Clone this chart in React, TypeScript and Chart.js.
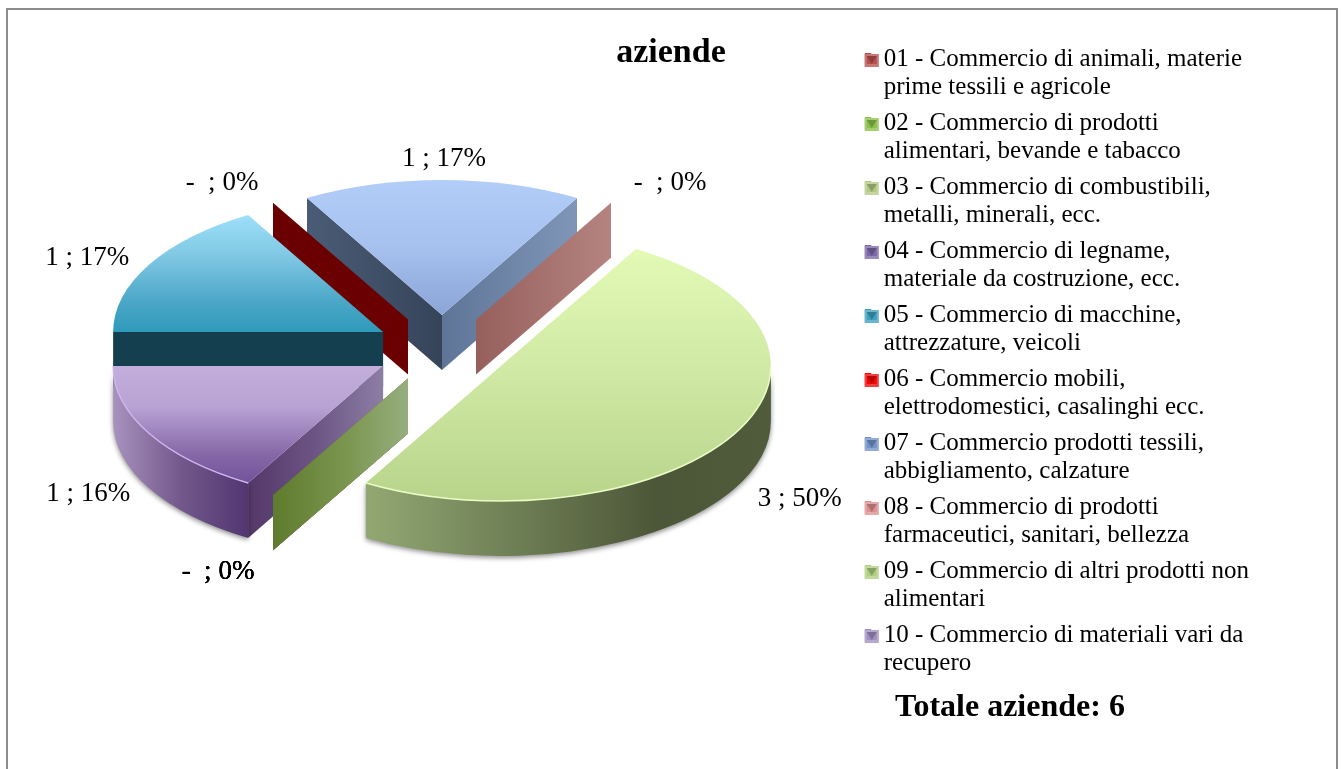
import React, { useEffect, useRef } from "react";
import { Chart, registerables } from "chart.js";

Chart.register(...registerables);

const legendLines: string[][] = [
  ["01 - Commercio di animali, materie", "prime tessili e agricole"],
  ["02 - Commercio di prodotti", "alimentari, bevande e tabacco"],
  ["03 - Commercio di combustibili,", "metalli, minerali, ecc."],
  ["04 - Commercio di legname,", "materiale da costruzione, ecc."],
  ["05 - Commercio di macchine,", "attrezzature, veicoli"],
  ["06 - Commercio mobili,", "elettrodomestici, casalinghi ecc."],
  ["07 - Commercio prodotti tessili,", "abbigliamento, calzature"],
  ["08 - Commercio di prodotti", "farmaceutici, sanitari, bellezza"],
  ["09 - Commercio di altri prodotti non", "alimentari"],
  ["10 - Commercio di materiali vari da", "recupero"],
];
const aziende = [0, 0, 0, 1, 1, 0, 1, 0, 3, 0];
const percentuali = [0, 0, 0, 16, 17, 0, 17, 0, 50, 0];
const swatchColors = ["#B85050", "#8CC04C", "#B4CA84", "#7C68A8", "#40A0C0", "#F00808", "#7494C8", "#DC9090", "#B0D080", "#A090C0"];
const titleText = "aziende";
const totalText = "Totale aziende: 6";

const FONT = '"Liberation Serif", serif';
const CX = 442, CY = 349, EXPLODE = 68, SQUASH = 0.5, DEPTH = 55;

type Stops = [number, string][];
type Look = { top: Stops; outer?: Stops; startWall?: Stops; endWall?: Stops; rim?: string };
const looks: Look[] = [
  { top: [[0, "#B04848"], [1, "#B04848"]], startWall: [[0, "#7A2020"], [1, "#A04848"]] },
  { top: [[0, "#86B848"], [1, "#86B848"]], startWall: [[0, "#5A7A28"], [1, "#80A050"]] },
  { top: [[0, "#AEC47C"], [1, "#AEC47C"]], startWall: [[0, "#5F7B2D"], [0.55, "#7B9650"], [1, "#96AE7E"]] },
  {
    top: [[0, "#C2ADDB"], [0.35, "#B9A3D4"], [0.75, "#8668A8"], [1, "#72539C"]],
    outer: [[0, "#A892BE"], [0.5, "#73588C"], [1, "#513670"]],
    startWall: [[0, "#533769"], [0.5, "#6C5585"], [1, "#8D7EA3"]],
    rim: "#CDB6EC",
  },
  {
    top: [[0, "#9EDFF9"], [0.35, "#7FC8E4"], [0.75, "#4AA6C6"], [1, "#2F9ABB"]],
    startWall: [[0, "#143F4E"], [1, "#143F4E"]],
  },
  { top: [[0, "#6B0000"], [1, "#6B0000"]], startWall: [[0, "#6B0000"], [1, "#6B0000"]] },
  {
    top: [[0, "#B3CDF9"], [0.5, "#A6C1EE"], [1, "#8AA5D7"]],
    startWall: [[0, "#4A5C75"], [1, "#36445A"]],
    endWall: [[0, "#5E7597"], [1, "#7F96B8"]],
  },
  { top: [[0, "#B58480"], [1, "#B58480"]], startWall: [[0, "#965F5C"], [1, "#B58480"]] },
  {
    top: [[0, "#E2FAB6"], [0.5, "#CFE8A4"], [1, "#B8D48A"]],
    outer: [[0, "#92A873"], [0.4, "#6B7B52"], [0.72, "#4C5638"], [1, "#505C3B"]],
    rim: "#EAFBC4",
  },
  { top: [[0, "#9C8CBC"], [1, "#9C8CBC"]], startWall: [[0, "#55406F"], [1, "#8C7CA4"]] },
];
// distance of each value label from the rim point at the middle of its slice
const labelNudge: [number, number][] = [
  [-55, 77], [-55, 77], [-55, 77], [-61, 60], [-62, -7], [-51, -20], [2, -21], [59, -20], [65, 65], [-55, 77],
];

function hGrad(ctx: CanvasRenderingContext2D, x0: number, x1: number, stops: Stops) {
  const g = ctx.createLinearGradient(Math.min(x0, x1), 0, Math.max(x0, x1), 0);
  stops.forEach(([o, c]) => g.addColorStop(o, c));
  return g;
}

const pie3d = {
  id: "pie3d",
  beforeDraw(chart: any) {
    const ctx: CanvasRenderingContext2D = chart.ctx;
    ctx.save();
    ctx.fillStyle = "#fff";
    ctx.fillRect(0, 0, chart.width, chart.height);
    ctx.strokeStyle = "#8C8C8C";
    ctx.lineWidth = 2;
    ctx.strokeRect(7, 9, 1330, 800);
    ctx.restore();
  },
  beforeDatasetsDraw(chart: any) {
    const ctx: CanvasRenderingContext2D = chart.ctx;
    const arcs: any[] = chart.getDatasetMeta(0).data;
    const items = arcs.map((el, i) => {
      const { startAngle: s, endAngle: e, outerRadius: R } = el.getProps(["startAngle", "endAngle", "outerRadius"], true);
      const mid = (s + e) / 2;
      return {
        i, s, e, R, mid,
        ax: CX + Math.cos(mid) * EXPLODE,
        ay: CY + Math.sin(mid) * EXPLODE * SQUASH,
      };
    });
    const rx = (it: any, a: number) => it.ax + Math.cos(a) * it.R;
    const ry = (it: any, a: number) => it.ay + Math.sin(a) * it.R * SQUASH;

    const wall = (it: any, a: number, stops: Stops) => {
      const x1 = rx(it, a), y1 = ry(it, a);
      ctx.fillStyle = hGrad(ctx, it.ax, x1, stops);
      ctx.beginPath();
      ctx.moveTo(it.ax, it.ay);
      ctx.lineTo(x1, y1);
      ctx.lineTo(x1, y1 + DEPTH);
      ctx.lineTo(it.ax, it.ay + DEPTH);
      ctx.closePath();
      ctx.fill();
    };

    const order = [...items].sort(
      (a, b) => Math.round(a.ay) - Math.round(b.ay) || (a.i === 9 ? -1 : b.i === 9 ? 1 : a.i - b.i)
    );
    order.forEach((it) => {
      const look = looks[it.i];
      if (it.e - it.s < 1e-6) {
        wall(it, it.s, look.startWall as Stops);
        return;
      }
      if (look.startWall && Math.cos(it.s) < 0) wall(it, it.s, look.startWall);
      if (look.endWall && Math.cos(it.e) > 0) wall(it, it.e, look.endWall);

      const fronts: [number, number][] = [];
      [0, 1].forEach((k) => {
        const lo = Math.max(it.s, 2 * Math.PI * k);
        const hi = Math.min(it.e, Math.PI + 2 * Math.PI * k);
        if (hi > lo) fronts.push([lo, hi]);
      });
      if (look.outer) {
        fronts.forEach(([lo, hi]) => {
          ctx.save();
          ctx.shadowColor = "rgba(0,0,0,0.45)";
          ctx.shadowBlur = 5;
          ctx.shadowOffsetY = 2;
          ctx.fillStyle = hGrad(ctx, rx(it, lo), rx(it, hi), look.outer as Stops);
          ctx.beginPath();
          ctx.ellipse(it.ax, it.ay, it.R, it.R * SQUASH, 0, lo, hi);
          ctx.ellipse(it.ax, it.ay + DEPTH, it.R, it.R * SQUASH, 0, hi, lo, true);
          ctx.closePath();
          ctx.fill();
          ctx.restore();
        });
      }

      let minY = it.ay, maxY = it.ay;
      for (let k = 0; k <= 72; k++) {
        const y = ry(it, it.s + ((it.e - it.s) * k) / 72);
        minY = Math.min(minY, y);
        maxY = Math.max(maxY, y);
      }
      const g = ctx.createLinearGradient(0, minY, 0, maxY);
      look.top.forEach(([o, c]) => g.addColorStop(o, c));
      ctx.fillStyle = g;
      ctx.beginPath();
      ctx.moveTo(it.ax, it.ay);
      ctx.ellipse(it.ax, it.ay, it.R, it.R * SQUASH, 0, it.s, it.e);
      ctx.closePath();
      ctx.fill();

      if (look.rim) {
        ctx.strokeStyle = look.rim;
        ctx.lineWidth = 1.5;
        fronts.forEach(([lo, hi]) => {
          ctx.beginPath();
          ctx.ellipse(it.ax, it.ay, it.R, it.R * SQUASH, 0, lo, hi);
          ctx.stroke();
        });
      }
    });

    // value labels
    ctx.save();
    ctx.fillStyle = "#000";
    ctx.font = `27px ${FONT}`;
    ctx.textAlign = "center";
    ctx.textBaseline = "middle";
    items.forEach((it) => {
      const v = aziende[it.i];
      const text = `${v === 0 ? "- " : v} ; ${percentuali[it.i]}%`;
      const [dx, dy] = labelNudge[it.i];
      ctx.fillText(text, rx(it, it.mid) + dx, ry(it, it.mid) + dy);
    });
    ctx.restore();
    return false;
  },
  afterDraw(chart: any) {
    const ctx: CanvasRenderingContext2D = chart.ctx;
    ctx.save();
    ctx.fillStyle = "#000";
    ctx.textBaseline = "middle";
    ctx.textAlign = "center";
    ctx.font = `bold 34px ${FONT}`;
    ctx.fillText(titleText, 671, 53);
    ctx.textAlign = "left";
    ctx.font = `bold 32px ${FONT}`;
    ctx.fillText(totalText, 895, 708);
    // bevelled legend keys on top of the legend's own boxes
    chart.legend.legendHitBoxes.forEach((b: any, i: number) => {
      const x = b.left, y = b.top + 7, w = 14, h = 13;
      ctx.fillStyle = swatchColors[i];
      ctx.fillRect(x, y, w, h);
      ctx.fillStyle = "rgba(255,255,255,0.22)";
      ctx.fillRect(x, y, w, 2);
      ctx.fillRect(x, y + 2, 2, h - 2);
      ctx.fillRect(x + w - 2, y + 2, 2, h - 2);
      ctx.fillRect(x + 2, y + h - 3, w - 4, 3);
      ctx.fillStyle = "rgba(0,0,0,0.22)";
      ctx.beginPath();
      ctx.moveTo(x + 2, y + 2);
      ctx.lineTo(x + w - 2, y + 2);
      ctx.lineTo(x + w / 2, y + h - 3);
      ctx.closePath();
      ctx.fill();
    });
    ctx.restore();
  },
};

export default function App() {
  const ref = useRef<HTMLCanvasElement>(null);
  useEffect(() => {
    const chart = new Chart(ref.current as HTMLCanvasElement, {
      type: "pie",
      data: {
        labels: legendLines as any,
        datasets: [{ data: aziende, backgroundColor: swatchColors, borderWidth: 0, hoverOffset: 0 }],
      },
      options: {
        responsive: false,
        animation: false,
        rotation: 210,
        radius: 270,
        layout: { padding: { left: 29, top: 38, bottom: 0, right: 82 } },
        plugins: {
          tooltip: { enabled: false },
          legend: {
            display: true,
            position: "right",
            align: "start",
            labels: {
              boxWidth: 6.5,
              boxHeight: 13,
              padding: 9,
              color: "#000",
              font: { family: FONT, size: 25, lineHeight: 1.1 },
            },
          },
        },
      },
      plugins: [pie3d],
    } as any);
    return () => chart.destroy();
  }, []);
  return (
    <div style={{ position: "absolute", left: 0, top: 0 }}>
      <canvas ref={ref} width={1341} height={769} style={{ display: "block" }} />
    </div>
  );
}
